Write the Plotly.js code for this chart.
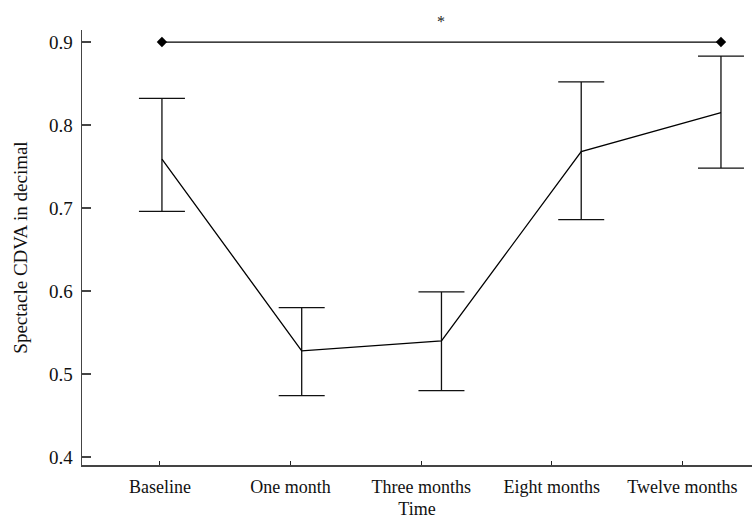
<!DOCTYPE html>
<html>
<head>
<meta charset="utf-8">
<script src="https://cdn.plot.ly/plotly-3.0.1.min.js"></script>
<style>html,body{margin:0;padding:0;background:#fff;}#chart{width:753px;height:523px;}</style>
</head>
<body>
<div id="chart"></div>
<script>
const categories = ["Baseline", "One month", "Three months", "Eight months", "Twelve months"];
const meanValues = [0.759, 0.528, 0.540, 0.768, 0.815];
const upperValues = [0.832, 0.580, 0.599, 0.852, 0.883];
const lowerValues = [0.696, 0.474, 0.480, 0.686, 0.748];
const sigPair = ["Baseline", "Twelve months"];
const sigLevel = [0.9, 0.9];
const sigLabel = "*";
const yTicks = [0.4, 0.5, 0.6, 0.7, 0.8, 0.9];

const FONT = "Liberation Serif, Times New Roman, serif";
const AX = "#444";

const traces = [
  {
    x: categories, y: meanValues, type: "scatter", mode: "lines",
    line: {color: "#000", width: 1.3},
    error_y: {
      type: "data", symmetric: false,
      array: upperValues.map((u, i) => u - meanValues[i]),
      arrayminus: lowerValues.map((l, i) => meanValues[i] - l),
      color: "#111", thickness: 1.3, width: 23
    },
    xaxis: "x", yaxis: "y", hoverinfo: "skip"
  },
  {
    x: sigPair, y: sigLevel, type: "scatter", mode: "lines+markers",
    line: {color: "#000", width: 1.3},
    marker: {symbol: "diamond", size: 8, color: "#000"},
    xaxis: "x", yaxis: "y", hoverinfo: "skip"
  },
  {
    x: categories, y: categories.map(() => null), type: "scatter", mode: "markers",
    xaxis: "x2", yaxis: "y", showlegend: false, hoverinfo: "skip"
  }
];

const layout = {
  width: 753, height: 523,
  margin: {l: 82, r: 1, t: 30, b: 58},
  paper_bgcolor: "#fff", plot_bgcolor: "#fff",
  showlegend: false,
  font: {family: FONT, size: 18, color: "#111"},
  xaxis: {
    type: "category", range: [-0.572, 4.222],
    showticklabels: false, ticks: "", showgrid: false, zeroline: false,
    showline: true, linecolor: AX, linewidth: 1.5
  },
  xaxis2: {
    type: "category", overlaying: "x", range: [-0.597, 4.533],
    side: "bottom", anchor: "y",
    showgrid: false, zeroline: false, showline: false,
    ticks: "inside", ticklen: 4, tickwidth: 1, tickcolor: "#222",
    ticklabelstandoff: 9,
    tickfont: {family: FONT, size: 18, color: "#111"},
    title: {text: "Time", font: {family: FONT, size: 18, color: "#111"}, standoff: 6}
  },
  yaxis: {
    range: [0.3904, 0.9145], tickvals: yTicks, ticktext: yTicks.map(v => v.toFixed(1)),
    ticks: "inside", ticklen: 9, tickwidth: 1.5, tickcolor: AX,
    ticklabelstandoff: 4,
    showgrid: false, zeroline: false,
    showline: true, linecolor: AX, linewidth: 1.5,
    tickfont: {family: FONT, size: 19, color: "#111"},
    title: {text: "Spectacle CDVA in decimal", font: {family: FONT, size: 19, color: "#111"}, standoff: 16}
  },
  annotations: [{
    x: "Three months", y: 0.9, xref: "x", yref: "y",
    text: sigLabel, showarrow: false, yshift: 21,
    font: {family: FONT, size: 16, color: "#222"}
  }]
};

Plotly.newPlot("chart", traces, layout, {staticPlot: true, displayModeBar: false});
</script>
</body>
</html>
